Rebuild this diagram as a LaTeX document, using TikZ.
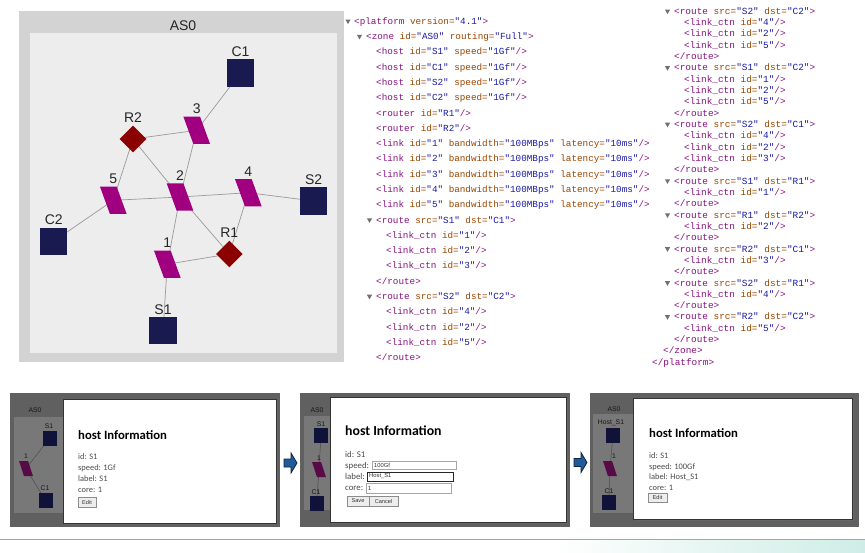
\documentclass[tikz,border=0pt]{standalone}
\usepackage{fontspec}
\setmainfont{Liberation Sans}
\newfontfamily\monof{Liberation Mono}
\newfontfamily\dlgf{Carlito}
\usetikzlibrary{shapes.geometric}
\definecolor{outerg}{HTML}{D3D3D3}
\definecolor{innerg}{HTML}{EDEDED}
\definecolor{hostc}{HTML}{191B50}
\definecolor{routc}{HTML}{8B0000}
\definecolor{linkc}{HTML}{A0007F}
\definecolor{edgec}{HTML}{9A9A9A}
\definecolor{xtag}{HTML}{881280}
\definecolor{xatt}{HTML}{994500}
\definecolor{xval}{HTML}{1A1AA6}
\definecolor{tric}{HTML}{707070}
\definecolor{pandark}{HTML}{606060}
\definecolor{panmini}{HTML}{787878}
\definecolor{minihost}{HTML}{10123A}
\definecolor{minilink}{HTML}{580A48}
\definecolor{minitext}{HTML}{161616}
\definecolor{dlgtext}{HTML}{4A4A4A}
\definecolor{arrfill}{HTML}{1F5A9A}
\definecolor{arrdraw}{HTML}{0F2540}
\definecolor{mintc}{HTML}{CFEDE6}
\pgfdeclarelayer{back}
\pgfdeclarelayer{edges}
\pgfsetlayers{back,edges,main}
\newcommand\T[1]{\textcolor{xtag}{#1}}
\newcommand\A[1]{\textcolor{xatt}{#1}}
\newcommand\V[1]{\textcolor{xval}{"#1"}}
\newcommand\lc[1]{\T{<link\_ctn} \A{id=}\V{#1}\T{/>}}
\newcommand\rt[2]{\T{<route} \A{src=}\V{#1} \A{dst=}\V{#2}\T{>}}
\newcommand\ert{\T{</route>}}
\newcommand\hst[1]{\T{<host} \A{id=}\V{#1} \A{speed=}\V{1Gf}\T{/>}}
\newcommand\lnk[1]{\T{<link} \A{id=}\V{#1} \A{bandwidth=}\V{100MBps} \A{latency=}\V{10ms}\T{/>}}
\newcommand\tri[2]{\fill[tric] (#1-2.6,#2-2.2) -- (#1+2.6,#2-2.2) -- (#1,#2+2.4) -- cycle;}
\tikzset{
 hostsq/.style={fill=hostc, minimum size=27.3pt, inner sep=0pt},
 routdm/.style={diamond, fill=routc, minimum size=26.7pt, inner sep=0pt},
 linkpg/.style={fill=linkc, minimum width=16.7pt, minimum height=27.3pt, inner sep=0pt, xslant=-0.365},
 glabel/.style={font=\fontsize{14}{16}\selectfont, text=black!85, inner sep=0pt, anchor=base},
 gedge/.style={draw=edgec, line width=0.7pt},
 xm/.style={anchor=mid west, inner sep=0pt, font=\monof\fontsize{9.3}{11}\selectfont},
 xr/.style={anchor=mid west, inner sep=0pt, font=\monof\fontsize{9.4}{11}\selectfont},
 mhost/.style={fill=minihost, minimum width=14pt, minimum height=15pt, inner sep=0pt},
 mlink/.style={fill=minilink, minimum width=9pt, minimum height=15pt, inner sep=0pt, xslant=-0.33},
 mlabel/.style={font=\fontsize{6.8}{8}\selectfont, text=minitext, inner sep=0pt},
 medge/.style={draw=black!70, line width=0.5pt},
 dtitle/.style={font=\dlgf\bfseries\fontsize{12.7}{14}\selectfont, text=black, inner sep=0pt, anchor=base west},
 dtext/.style={font=\dlgf\fontsize{8.4}{10}\selectfont, text=dlgtext, inner sep=0pt, anchor=base west},
 dbtn/.style={draw=black!45, fill=black!7, font=\fontsize{5.6}{6}\selectfont, text=black!80, inner sep=0pt},
 dbox/.style={draw=black!35, fill=white, inner sep=0pt},
 blockarrow/.style={fill=arrfill, draw=arrdraw, line width=0.8pt, line join=miter},
}
\begin{document}
\begin{tikzpicture}[x=1pt,y=-1pt]
\useasboundingbox (0,0) rectangle (865,552);
% ================= top graph panel =================
\begin{pgfonlayer}{back}
\fill[white] (0,0) rectangle (865,552);
\fill[outerg] (19,11) rectangle (344,362);
\fill[innerg] (30,33) rectangle (337,353);
\end{pgfonlayer}
\node[font=\fontsize{14}{16}\selectfont, text=black!85, inner sep=0pt, anchor=base] (as0) at (183,30) {AS0};
\node[hostsq] (C1) at (240.5,73) {};
\node[hostsq] (S2) at (313.7,201) {};
\node[hostsq] (C2) at (53.7,241.2) {};
\node[hostsq] (S1) at (163,330.3) {};
\node[routdm] (R2) at (133,139) {};
\node[routdm] (R1) at (229.3,254) {};
\node[linkpg] (L3) at (196.7,130.3) {};
\node[linkpg] (L2) at (180,197) {};
\node[linkpg] (L4) at (248.3,192.7) {};
\node[linkpg] (L5) at (113.3,200.3) {};
\node[linkpg] (L1) at (167.3,264.2) {};
\node[glabel] (lC1) at (240.5,56.8) {C1};
\node[glabel] (lS2) at (313.7,184.8) {S2};
\node[glabel] (lC2) at (53.7,224.8) {C2};
\node[glabel] (lS1) at (163,314) {S1};
\node[glabel] (lR2) at (133,122.8) {R2};
\node[glabel] (lR1) at (229.3,237.8) {R1};
\node[glabel] (lL3) at (196.7,113.6) {3};
\node[glabel] (lL2) at (180,180.4) {2};
\node[glabel] (lL4) at (248.3,176.6) {4};
\node[glabel] (lL5) at (113.3,183.9) {5};
\node[glabel] (lL1) at (167.3,247.6) {1};
\begin{pgfonlayer}{edges}
\draw[gedge] (C1.center) -- (L3.center);
\draw[gedge] (L3.center) -- (R2.center);
\draw[gedge] (L3.center) -- (L2.center);
\draw[gedge] (R2.center) -- (L5.center);
\draw[gedge] (R2.center) -- (L2.center);
\draw[gedge] (L5.center) -- (L2.center);
\draw[gedge] (L2.center) -- (L4.center);
\draw[gedge] (L4.center) -- (S2.center);
\draw[gedge] (L5.center) -- (C2.center);
\draw[gedge] (L2.center) -- (L1.center);
\draw[gedge] (L2.center) -- (R1.center);
\draw[gedge] (L4.center) -- (R1.center);
\draw[gedge] (L1.center) -- (R1.center);
\draw[gedge] (L1.center) -- (S1.center);
\end{pgfonlayer}
% ================= middle XML column =================
\tri{348}{21.7}
\tri{359.5}{37.0}
\tri{369.5}{220.5}
\tri{369.5}{296.9}
\node[xm] (m0) at (354,21.7) {\T{<platform} \A{version=}\V{4.1}\T{>}};
\node[xm] (m1) at (366,37.0) {\T{<zone} \A{id=}\V{AS0} \A{routing=}\V{Full}\T{>}};
\node[xm] (m2) at (376,52.3) {\hst{S1}};
\node[xm] (m3) at (376,67.6) {\hst{C1}};
\node[xm] (m4) at (376,82.9) {\hst{S2}};
\node[xm] (m5) at (376,98.15) {\hst{C2}};
\node[xm] (m6) at (376,113.4) {\T{<router} \A{id=}\V{R1}\T{/>}};
\node[xm] (m7) at (376,128.7) {\T{<router} \A{id=}\V{R2}\T{/>}};
\node[xm] (m8) at (376,144.0) {\lnk{1}};
\node[xm] (m9) at (376,159.3) {\lnk{2}};
\node[xm] (m10) at (376,174.6) {\lnk{3}};
\node[xm] (m11) at (376,189.9) {\lnk{4}};
\node[xm] (m12) at (376,205.2) {\lnk{5}};
\node[xm] (m13) at (376,220.5) {\rt{S1}{C1}};
\node[xm] (m14) at (386,235.8) {\lc{1}};
\node[xm] (m15) at (386,251.1) {\lc{2}};
\node[xm] (m16) at (386,266.3) {\lc{3}};
\node[xm] (m17) at (376,281.6) {\ert};
\node[xm] (m18) at (376,296.9) {\rt{S2}{C2}};
\node[xm] (m19) at (386,312.2) {\lc{4}};
\node[xm] (m20) at (386,327.5) {\lc{2}};
\node[xm] (m21) at (386,342.8) {\lc{5}};
\node[xm] (m22) at (376,358.1) {\ert};
% ================= right XML column =================
\tri{667.5}{11.7}
\tri{667.5}{68.3}
\tri{667.5}{124.9}
\tri{667.5}{181.5}
\tri{667.5}{215.5}
\tri{667.5}{249.4}
\tri{667.5}{283.4}
\tri{667.5}{317.3}
\node[xr] (r0) at (674,11.7) {\rt{S2}{C2}};
\node[xr] (r1) at (684,23.0) {\lc{4}};
\node[xr] (r2) at (684,34.3) {\lc{2}};
\node[xr] (r3) at (684,45.7) {\lc{5}};
\node[xr] (r4) at (674,57.0) {\ert};
\node[xr] (r5) at (674,68.3) {\rt{S1}{C2}};
\node[xr] (r6) at (684,79.6) {\lc{1}};
\node[xr] (r7) at (684,90.9) {\lc{2}};
\node[xr] (r8) at (684,102.3) {\lc{5}};
\node[xr] (r9) at (674,113.6) {\ert};
\node[xr] (r10) at (674,124.9) {\rt{S2}{C1}};
\node[xr] (r11) at (684,136.2) {\lc{4}};
\node[xr] (r12) at (684,147.5) {\lc{2}};
\node[xr] (r13) at (684,158.9) {\lc{3}};
\node[xr] (r14) at (674,170.2) {\ert};
\node[xr] (r15) at (674,181.5) {\rt{S1}{R1}};
\node[xr] (r16) at (684,192.8) {\lc{1}};
\node[xr] (r17) at (674,204.1) {\ert};
\node[xr] (r18) at (674,215.5) {\rt{R1}{R2}};
\node[xr] (r19) at (684,226.8) {\lc{2}};
\node[xr] (r20) at (674,238.1) {\ert};
\node[xr] (r21) at (674,249.4) {\rt{R2}{C1}};
\node[xr] (r22) at (684,260.7) {\lc{3}};
\node[xr] (r23) at (674,272.1) {\ert};
\node[xr] (r24) at (674,283.4) {\rt{S2}{R1}};
\node[xr] (r25) at (684,294.7) {\lc{4}};
\node[xr] (r26) at (674,306.0) {\ert};
\node[xr] (r27) at (674,317.3) {\rt{R2}{C2}};
\node[xr] (r28) at (684,328.7) {\lc{5}};
\node[xr] (r29) at (674,340.0) {\ert};
\node[xr] (r30) at (663,351.3) {\T{</zone>}};
\node[xr] (r31) at (652,362.6) {\T{</platform>}};
% ================= bottom panels: backgrounds =================
\begin{pgfonlayer}{back}
\fill[pandark] (10,393) rectangle (280,527);
\fill[panmini] (14,417) rectangle (63,513);
\fill[pandark] (300,393) rectangle (570,527);
\fill[panmini] (304,416) rectangle (330,510);
\fill[pandark] (590,393) rectangle (859,527);
\fill[panmini] (593,414) rectangle (633,513);
\end{pgfonlayer}
% ---- panel 1 mini graph ----
\node[mlabel] (p1as) at (35,410) {AS0};
\node[mlabel] (p1lS) at (49,426) {S1};
\node[mhost] (p1S) at (49.5,438.5) {};
\node[mlabel] (p1l1) at (26,456) {1};
\node[mlink] (p1L) at (26,468.5) {};
\node[mlabel] (p1lC) at (45,488) {C1};
\node[mhost] (p1C) at (45.5,500.5) {};
% ---- panel 2 mini graph ----
\node[mlabel] (p2as) at (317,410) {AS0};
\node[mlabel] (p2lS) at (321,424) {S1};
\node[mhost] (p2S) at (321,435.5) {};
\node[mlabel] (p2l1) at (319,458) {1};
\node[mlink] (p2L) at (319,469.5) {};
\node[mlabel] (p2lC) at (316,492) {C1};
\node[mhost] (p2C) at (316.5,503.5) {};
% ---- panel 3 mini graph ----
\node[mlabel] (p3as) at (614,409) {AS0};
\node[mlabel] (p3lS) at (611,423) {Host\_S1};
\node[mhost] (p3S) at (613,435) {};
\node[mlabel] (p3l1) at (614,456) {1};
\node[mlink] (p3L) at (610,468.5) {};
\node[mlabel] (p3lC) at (609,491) {C1};
\node[mhost] (p3C) at (609,502.5) {};
\begin{pgfonlayer}{edges}
\draw[medge] (p1S.center) -- (p1L.center) -- (p1C.center);
\draw[medge] (p2S.center) -- (p2L.center) -- (p2C.center);
\draw[medge] (p3S.center) -- (p3L.center) -- (p3C.center);
\end{pgfonlayer}
% ---- dialogs ----
\fill[black!60] (64.5,400.5) rectangle (278,525);
\filldraw[fill=white, draw=black!80, line width=0.8pt] (63,399) rectangle (276,523);
\fill[black!60] (331.5,398.5) rectangle (568,524);
\filldraw[fill=white, draw=black!80, line width=0.8pt] (330,397) rectangle (566,522);
\fill[black!60] (634.5,399.5) rectangle (854,521);
\filldraw[fill=white, draw=black!80, line width=0.8pt] (633,398) rectangle (852,519);
% panel 1 text
\node[dtitle] (d1t) at (78,439) {host Information};
\node[dtext] (d1a) at (78,459) {id: S1};
\node[dtext] (d1b) at (78,470.5) {speed: 1Gf};
\node[dtext] (d1c) at (78,481.5) {label: S1};
\node[dtext] (d1d) at (78,492.5) {core: 1};
\node[dbtn, minimum width=18pt, minimum height=10pt] (d1e) at (87,502) {Edit};
% panel 2 text
\node[dtitle, font=\dlgf\bfseries\fontsize{13.8}{15}\selectfont] (d2t) at (345,435) {host Information};
\node[dtext, font=\dlgf\fontsize{8.8}{10}\selectfont] (d2a) at (345,457.5) {id: S1};
\node[dtext, font=\dlgf\fontsize{8.8}{10}\selectfont] (d2b) at (345,468.5) {speed:};
\node[dtext, font=\dlgf\fontsize{8.8}{10}\selectfont] (d2c) at (345,479.5) {label:};
\node[dtext, font=\dlgf\fontsize{8.8}{10}\selectfont] (d2d) at (345,490.5) {core:};
\node[dbox, minimum width=84pt, minimum height=8pt, anchor=west] (d2bx) at (372,465) {};
\node[dbox, draw=black!85, line width=0.8pt, minimum width=86pt, minimum height=9pt, anchor=west] (d2cx) at (367,476.5) {};
\node[dbox, minimum width=85pt, minimum height=10pt, anchor=west] (d2dx) at (366,488) {};
\node[font=\fontsize{5.8}{6}\selectfont, text=black!80, inner sep=0pt, anchor=west] (d2bv) at (374,465) {100Gf};
\node[font=\fontsize{5.8}{6}\selectfont, text=black!80, inner sep=0pt, anchor=west] (d2cv) at (369,476.5) {Host\_S1};
\node[font=\fontsize{5.8}{6}\selectfont, text=black!80, inner sep=0pt, anchor=west] (d2dv) at (368,488) {1};
\node[dbtn, minimum width=22pt, minimum height=10pt] (d2s) at (358,501) {Save};
\node[dbtn, minimum width=29pt, minimum height=10pt] (d2x) at (383.5,501) {Cancel};
% panel 3 text
\node[dtitle] (d3t) at (649,437) {host Information};
\node[dtext] (d3a) at (649,458.5) {id: S1};
\node[dtext] (d3b) at (649,469.5) {speed: 100Gf};
\node[dtext] (d3c) at (649,479.5) {label: Host\_S1};
\node[dtext] (d3d) at (649,490.5) {core: 1};
\node[dbtn, minimum width=19pt, minimum height=9pt] (d3e) at (657.5,497.5) {Edit};
% arrows between panels
\draw[blockarrow] (284,459) -- (291,459) -- (291,453) -- (297,463) -- (291,473) -- (291,467) -- (284,467) -- cycle;
\draw[blockarrow] (574,458.5) -- (581,458.5) -- (581,452.5) -- (587,462.5) -- (581,472.5) -- (581,466.5) -- (574,466.5) -- cycle;
% bottom rule
\shade[left color=white, right color=mintc] (550,540) rectangle (865,552);
\draw[black!35, line width=1pt] (0,539) -- (865,539);
\end{tikzpicture}
\end{document}
